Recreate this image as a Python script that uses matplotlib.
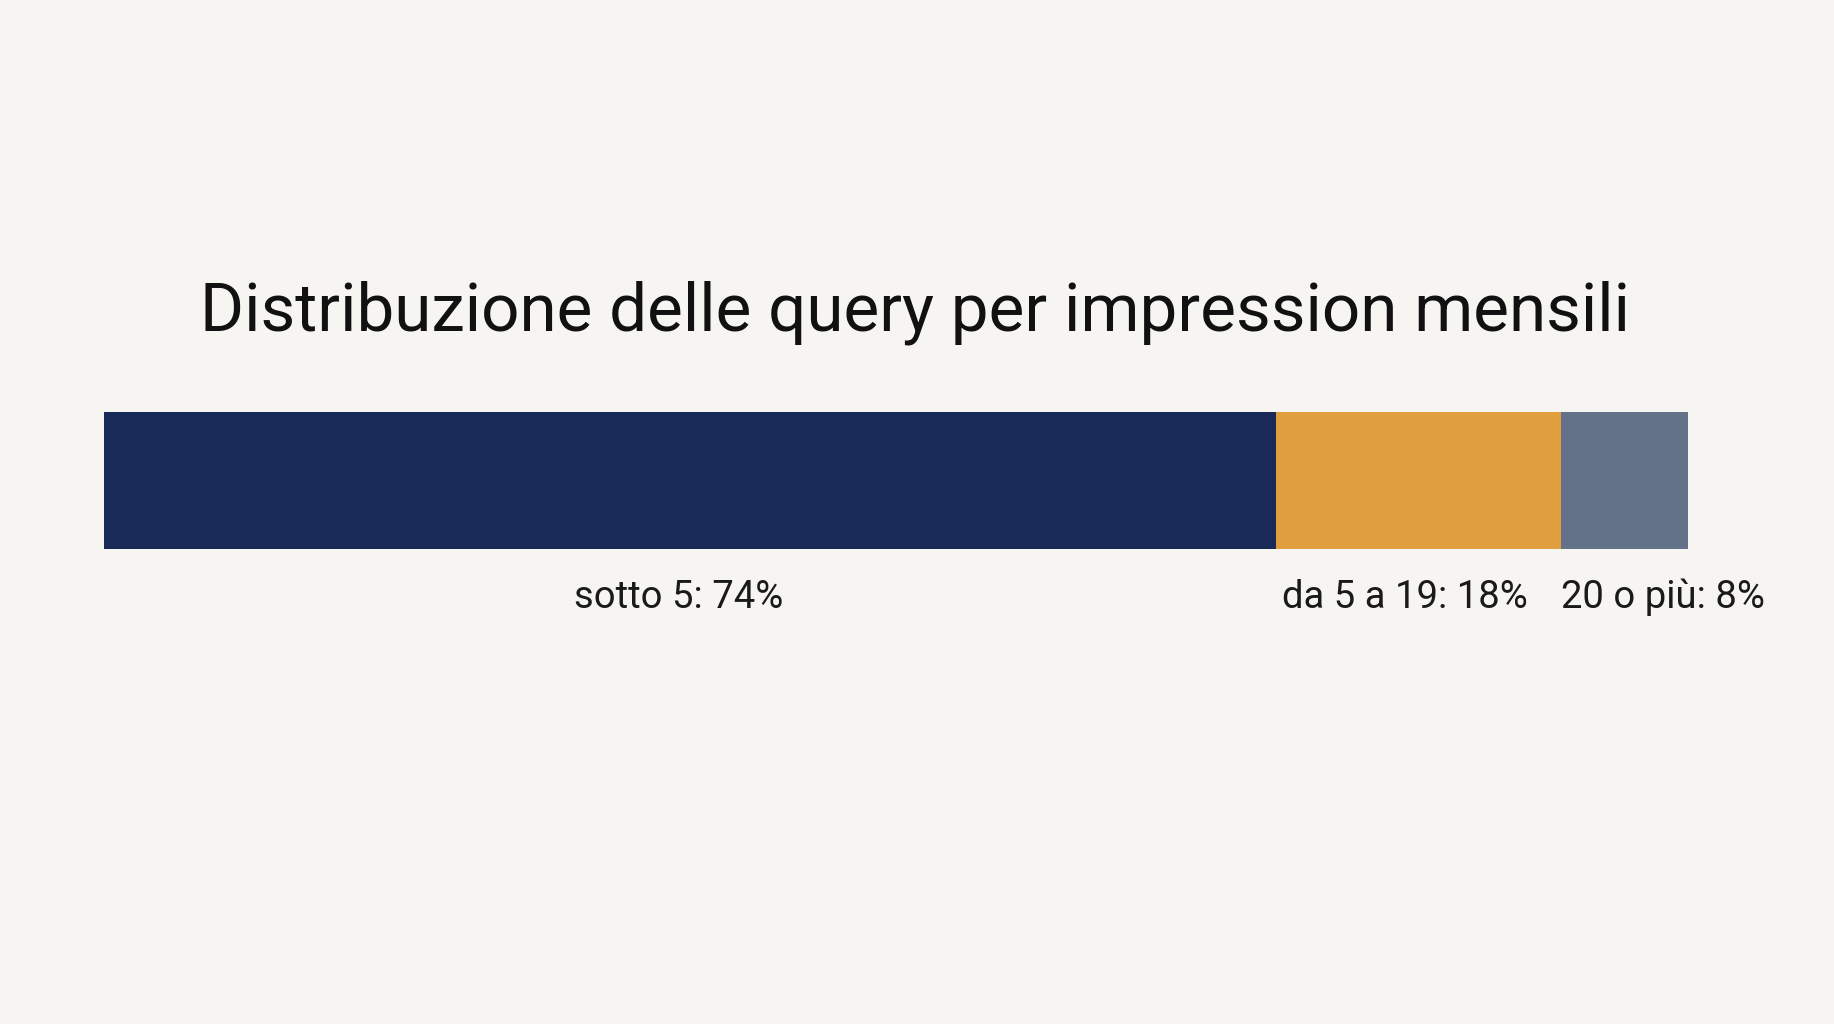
import matplotlib
matplotlib.use("Agg")
import matplotlib.pyplot as plt
from matplotlib.transforms import blended_transform_factory, offset_copy

title = "Distribuzione delle query per impression mensili"
categories = ["sotto 5", "da 5 a 19", "20 o più"]
values = [74, 18, 8]
colors = ["#1A2A56", "#E09E3E", "#637289"]
label_align = ["center", "center", "left"]
label_shift_pt = [-8, -10, 0]

plt.rcParams['font.family'] = ['Roboto', 'DejaVu Sans']
bg = "#F6F5F2"
fig = plt.figure(figsize=(18.34, 10.24), dpi=100, facecolor=bg)
ax = fig.add_axes([0.0565, 0.4639, 0.9204 - 0.0565, 0.5977 - 0.4639])
ax.set_facecolor(bg)

left = 0
for cat, v, c in zip(categories, values, colors):
    ax.barh(0, v, left=left, height=1.0, color=c, edgecolor='none')
    left += v
ax.set_xlim(0, sum(values))
ax.set_ylim(-0.5, 0.5)
ax.axis('off')

tr = blended_transform_factory(ax.transData, fig.transFigure)
left = 0
for cat, v, al, sh in zip(categories, values, label_align, label_shift_pt):
    x = left + v / 2 if al == "center" else left
    t = offset_copy(tr, fig=fig, x=sh, y=0, units='points')
    fig.text(x, 0.4063, f"{cat}: {v}%", transform=t, ha=al, va='baseline',
             fontsize=27.5, color="#1a1a1a")
    left += v

fig.text(0.4989, 0.6768, title, ha='center', va='baseline', fontsize=48.5, color="#111111")

fig.savefig("out.png", dpi=100, facecolor=bg)
